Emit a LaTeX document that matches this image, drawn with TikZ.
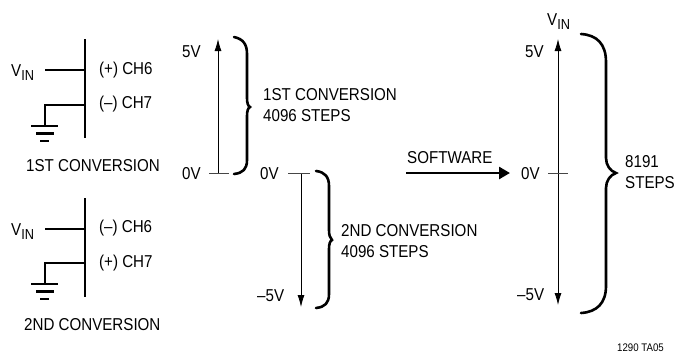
\documentclass[tikz,border=0pt]{standalone}
\usepackage{fontspec}
\setmainfont[FakeStretch=0.88]{Liberation Sans}
\usetikzlibrary{arrows.meta,calc,positioning}
\definecolor{TickGray}{RGB}{70,70,70}
\newcommand{\vinlabel}{V\raisebox{-4pt}{\fontsize{14.5}{16}\selectfont IN}}
\tikzset{
    wire/.style={line width=2.2pt},
    busbar/.style={line width=2.6pt},
    brace/.style={line width=2.6pt, line cap=round},
    rangearrow/.style={line width=0.8pt, {Latex[length=12pt,width=7pt]}-{Latex[length=12pt,width=7pt]}},
    singlearrow/.style={line width=0.8pt, -{Latex[length=12pt,width=7pt]}},
    tick/.style={line width=0.8pt, TickGray},
    softarrow/.style={line width=2.6pt, -{Triangle[length=11pt,width=12pt]}},
    lbl/.style={inner sep=0pt, anchor=west, align=left},
    groundsym/.pic={
        \draw[line width=2.2pt] (-14,0) -- (13,0);
        \draw[line width=2.2pt] (-9,7.5) -- (9,7.5);
        \draw[line width=2.2pt] (-5,15) -- (4,15);
    }
}
\begin{document}
\begin{tikzpicture}[x=1pt, y=-1pt, font=\fontsize{17.2}{21.5}\selectfont]
    \useasboundingbox (0,0) rectangle (677,354);

    % 1st conversion input
    \coordinate (busAtop) at (85,39);
    \coordinate (busAbot) at (85,138);
    \coordinate (ch6A) at (85,70);
    \coordinate (ch7A) at (85,105);
    \coordinate (vinA) at (45,70);
    \coordinate (cornerA) at (45,105);
    \coordinate (gndA) at (45,126);
    \draw[busbar] (busAtop) -- (busAbot);
    \draw[wire] (vinA) -- (ch6A);
    \draw[wire] (ch7A) -- (cornerA) -- (gndA);
    \pic at (gndA) {groundsym};
    \node[lbl] (vinAlabel) at (11,73) {\vinlabel};
    \node[lbl] (ch6Alabel) at (99,70) {(+) CH6};
    \node[lbl] (ch7Alabel) at (99,104) {(\textendash) CH7};
    \node[lbl] (convA) at (26,166) {1ST CONVERSION};

    % 2nd conversion input
    \coordinate (busBtop) at (85,198);
    \coordinate (busBbot) at (85,297);
    \coordinate (ch6B) at (85,229);
    \coordinate (ch7B) at (85,263);
    \coordinate (vinB) at (45,229);
    \coordinate (cornerB) at (45,263);
    \coordinate (gndB) at (45,284);
    \draw[busbar] (busBtop) -- (busBbot);
    \draw[wire] (vinB) -- (ch6B);
    \draw[wire] (ch7B) -- (cornerB) -- (gndB);
    \pic at (gndB) {groundsym};
    \node[lbl] (vinBlabel) at (11,232) {\vinlabel};
    \node[lbl] (ch6Blabel) at (99,228) {(\textendash) CH6};
    \node[lbl] (ch7Blabel) at (99,263) {(+) CH7};
    \node[lbl] (convB) at (24,325) {2ND CONVERSION};

    % 1st range, 0V to 5V
    \coordinate (topA) at (218,39);
    \coordinate (zeroA) at (218,173);
    \draw[singlearrow] (zeroA) -- (topA);
    \draw[tick] (209,173) -- (229,173);
    \node[lbl] (fiveA) at (182,52) {5V};
    \node[lbl] (zeroAlabel) at (182,174) {0V};
    \draw[brace] (234,37) .. controls (243,39) and (247,44) .. (247,54) -- (247,98)
        .. controls (247,103) and (248,106) .. (250,107)
        .. controls (248,108) and (247,111) .. (247,116) -- (247,160)
        .. controls (247,169) and (243,173) .. (234,174);
    \node[lbl] (stepsA) at (263,105) {1ST CONVERSION\\4096 STEPS};

    % 2nd range, 0V to -5V
    \coordinate (zeroB) at (301,173);
    \coordinate (botB) at (301,307);
    \draw[singlearrow] (zeroB) -- (botB);
    \draw[tick] (288,173) -- (310,173);
    \node[lbl] (zeroBlabel) at (260,174) {0V};
    \node[lbl] (minusB) at (257,296) {\textendash 5V};
    \draw[brace] (316,171) .. controls (325,172) and (329,177) .. (329,186) -- (329,230)
        .. controls (329,235) and (330,238) .. (332,240)
        .. controls (330,241) and (329,244) .. (329,249) -- (329,294)
        .. controls (329,303) and (325,307) .. (316,308);
    \node[lbl] (stepsB) at (341,241) {2ND CONVERSION\\4096 STEPS};

    % Software arrow
    \coordinate (softL) at (406,173);
    \coordinate (softR) at (510,173);
    \draw[softarrow] (softL) -- (softR);
    \node[lbl] (softlabel) at (407,158) {SOFTWARE};

    % Combined range
    \coordinate (topC) at (558,39);
    \coordinate (botC) at (558,305);
    \draw[rangearrow] (botC) -- (topC);
    \draw[tick] (548,173) -- (568,173);
    \node[lbl] (vinClabel) at (547,22) {\vinlabel};
    \node[lbl] (fiveC) at (525,52) {5V};
    \node[lbl] (zeroClabel) at (521,174) {0V};
    \node[lbl] (minusC) at (517,295) {\textendash 5V};
    \draw[brace] (581,34) .. controls (597,35) and (606,44) .. (606,62) -- (606,158)
        .. controls (606,165) and (610,171) .. (616,173)
        .. controls (610,175) and (606,181) .. (606,188) -- (606,286)
        .. controls (606,303) and (597,312) .. (581,313);
    \node[lbl] (stepsC) at (625,172) {8191\\STEPS};

    \node[lbl, font=\fontsize{11}{13}\selectfont] (tagno) at (617,348) {1290 TA05};
\end{tikzpicture}
\end{document}
